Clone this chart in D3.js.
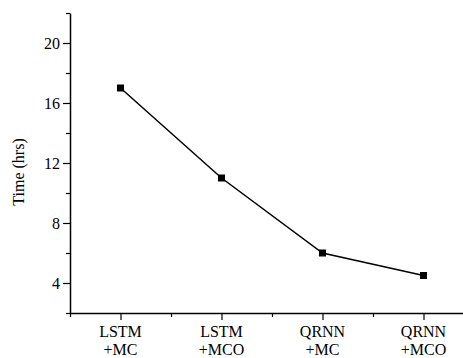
<!DOCTYPE html>
<html>
<head>
<meta charset="utf-8">
<script src="https://cdn.jsdelivr.net/npm/d3@7"></script>
<style>
  html, body { margin: 0; padding: 0; background: #fff; font-family: 'Liberation Serif', serif; }
  svg { display: block; }
</style>
</head>
<body>
<div id="chart"></div>
<script>
const categories = [["LSTM", "+MC"], ["LSTM", "+MCO"], ["QRNN", "+MC"], ["QRNN", "+MCO"]];
const times = [17, 11, 6, 4.5];
const yTicks = [4, 8, 12, 16, 20];
const yMinorTicks = [2, 6, 10, 14, 18, 22];

const FONT = 'Liberation Serif';

const W = 463, H = 358;
const svg = d3.select('#chart').append('svg')
  .attr('width', W)
  .attr('height', H)
  .attr('font-family', FONT);

// X Scale (categories at 1..4, axis spans 0.5..4.5)
const x = d3.scaleLinear().domain([0.5, 4.5]).range([70, 474]);
// Y Scale
const y = d3.scaleLinear().domain([2, 22]).range([313, 13]);

// Minor ticks
svg.append('g')
  .attr('transform', `translate(70,0)`)
  .call(d3.axisLeft(y).tickValues(yMinorTicks).tickSize(4).tickFormat('').tickSizeOuter(0))
  .call(g => g.select('.domain').remove())
  .selectAll('line').attr('stroke', '#000').attr('stroke-width', 1.2);

svg.append('g')
  .attr('transform', `translate(0,313)`)
  .call(d3.axisBottom(x).tickValues([0.5, 1.5, 2.5, 3.5]).tickSize(4).tickFormat('').tickSizeOuter(0))
  .call(g => g.select('.domain').remove())
  .selectAll('line').attr('stroke', '#000').attr('stroke-width', 1.2);

// Y axis
const yAxis = svg.append('g')
  .attr('transform', `translate(70,0)`)
  .call(d3.axisLeft(y).tickValues(yTicks).tickSize(7).tickSizeOuter(0).tickPadding(3))
  .attr('font-family', FONT)
  .attr('font-size', 16);
yAxis.select('.domain').attr('stroke', '#000').attr('stroke-width', 1.5);
yAxis.selectAll('line').attr('stroke', '#000').attr('stroke-width', 1.2);
yAxis.selectAll('text')
  .attr('fill', '#000')
  .attr('font-family', FONT);

// X axis
const xAxis = svg.append('g')
  .attr('transform', `translate(0,313)`)
  .call(d3.axisBottom(x).tickValues([1, 2, 3, 4]).tickSize(7).tickSizeOuter(0).tickFormat(''));
xAxis.select('.domain').attr('stroke', '#000').attr('stroke-width', 1.5);
xAxis.selectAll('line').attr('stroke', '#000').attr('stroke-width', 1.2);

// Two-line category labels
categories.forEach((c, i) => {
  const t = svg.append('text')
    .attr('x', x(i + 1))
    .attr('y', 337)
    .attr('text-anchor', 'middle')
    .attr('font-size', 16)
    .attr('font-family', FONT)
    .attr('fill', '#000');
  t.append('tspan').attr('x', x(i + 1)).text(c[0]);
  t.append('tspan').attr('x', x(i + 1)).attr('dy', 18).text(c[1]);
});

// Y label
svg.append('text')
  .attr('transform', `translate(24,172) rotate(-90)`)
  .attr('text-anchor', 'middle')
  .attr('font-size', 16)
  .attr('font-family', FONT)
  .attr('fill', '#000')
  .text('Time (hrs)');

// Line
const line = d3.line()
  .x((d, i) => x(i + 1))
  .y(d => y(d));

svg.append('path')
  .datum(times)
  .attr('fill', 'none')
  .attr('stroke', '#000')
  .attr('stroke-width', 1.5)
  .attr('d', line);

// Square markers
svg.selectAll('rect.pt')
  .data(times)
  .enter().append('rect')
  .attr('class', 'pt')
  .attr('x', (d, i) => x(i + 1) - 3.5)
  .attr('y', d => y(d) - 3.5)
  .attr('width', 7)
  .attr('height', 7)
  .attr('fill', '#000');
</script>
</body>
</html>
